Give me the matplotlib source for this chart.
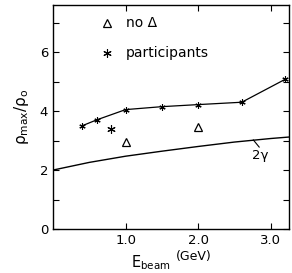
import matplotlib
matplotlib.use("Agg")
import matplotlib.pyplot as plt
from matplotlib.ticker import FixedLocator

# participants curve
part_E = [0.4, 0.6, 1.0, 1.5, 2.0, 2.6, 3.2]
part_rho = [3.5, 3.7, 4.05, 4.15, 4.22, 4.3, 5.08]
# isolated participants point
star_E = [0.8]
star_rho = [3.38]
# no Delta points
nod_E = [1.0, 2.0]
nod_rho = [2.95, 3.45]
# 2 gamma curve
g_E = [0.0, 0.5, 1.0, 1.5, 2.0, 2.5, 3.0, 3.25]
g_rho = [2.0, 2.26, 2.47, 2.64, 2.8, 2.95, 3.07, 3.12]

fig = plt.figure(figsize=(2.92, 2.73), dpi=100)
ax = fig.add_axes([0.1815, 0.161, 0.808, 0.821])

ax.plot(part_E, part_rho, color='black', lw=0.9, marker=(6, 2, 0), ms=4.5, mew=0.8)
ax.plot(star_E, star_rho, ls='none', color='black', marker=(6, 2, 0), ms=6, mew=0.8)
ax.plot(nod_E, nod_rho, ls='none', marker='^', mfc='none', mec='black', ms=6, mew=0.9)
ax.plot(g_E, g_rho, color='black', lw=1.0)

# legend-like annotations
ax.plot([0.75], [7.0], ls='none', marker='^', mfc='none', mec='black', ms=6, mew=0.9)
ax.text(1.0, 7.0, "no Δ", fontsize=10, va='center', ha='left')
ax.plot([0.75], [5.97], ls='none', color='black', marker=(6, 2, 0), ms=6, mew=0.8)
ax.text(1.0, 5.97, "participants", fontsize=10, va='center', ha='left')

# 2 gamma label
ax.plot([2.76, 2.84], [3.02, 2.78], color='black', lw=0.8)
ax.text(2.86, 2.5, "2γ", fontsize=9.5, ha='center', va='center')

ax.set_xlim(0, 3.25)
ax.set_ylim(0, 7.6)
ax.xaxis.set_major_locator(FixedLocator([1.0, 2.0, 3.0]))
ax.set_xticklabels(["1.0", "2.0", "3.0"])
ax.yaxis.set_major_locator(FixedLocator([0, 2, 4, 6]))
ax.yaxis.set_minor_locator(FixedLocator([1, 3, 5, 7]))
ax.tick_params(direction='in', top=True, right=True, labelsize=9.5, length=4, width=0.8)
ax.tick_params(which='minor', direction='in', right=True, length=4, width=0.8)
for s in ax.spines.values():
    s.set_linewidth(1.0)

ax.set_ylabel(r"$\mathregular{\rho_{max}/\rho_o}$", fontsize=11, labelpad=6)
ax.text(0.5, -0.11, r"$\mathregular{E_{beam}}$", transform=ax.transAxes, fontsize=10.5, ha='right', va='top')
ax.text(0.52, -0.095, "(GeV)", transform=ax.transAxes, fontsize=9, ha='left', va='top')

fig.savefig("out.png", dpi=100)
